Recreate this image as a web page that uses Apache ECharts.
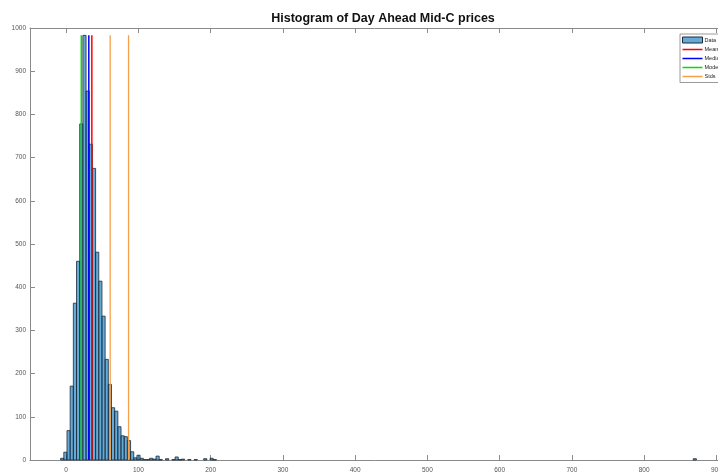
<!DOCTYPE html>
<html>
<head>
<meta charset="utf-8">
<script src="https://cdn.jsdelivr.net/npm/echarts@6/dist/echarts.min.js"></script>
<style>
  html, body { margin: 0; padding: 0; background: #fff; }
  #chart { width: 718px; height: 473px; }
</style>
</head>
<body>
<div id="chart"></div>
<script>
// Histogram bins: equal-width bins starting at binStart
const binStart = -7.6;
const binWidth = 4.4;
const binCounts = [
  4, 18, 68, 171, 363, 460, 778, 983, 854, 731,
  675, 481, 414, 333, 233, 175, 121, 113, 77, 56,
  54, 45, 19, 5, 11, 4, 1, 1, 4, 2,
  9, 1, 0, 3, 0, 1, 7, 1, 2, 0,
  1, 0, 1, 0, 0, 3, 0, 4, 1
];
// Isolated high-price bins (bin index, count)
const outlierBins = [199];
const outlierCounts = [3];

// Summary statistics of the prices
const meanPrice = 35.6;
const medianPrice = 31.4;
const modePrice = 21.0;
const stdLines = [61.0, 86.4];

const xTicks = [0, 100, 200, 300, 400, 500, 600, 700, 800, 900];

// Build [left, right, count] rows for the bars
const barRows = [];
binCounts.forEach((c, k) => {
  if (c > 0) barRows.push([binStart + k * binWidth, binStart + (k + 1) * binWidth, c]);
});
outlierBins.forEach((k, i) => {
  barRows.push([binStart + k * binWidth, binStart + (k + 1) * binWidth, outlierCounts[i]]);
});
const lineTop = Math.max(...binCounts, ...outlierCounts);

const barFill = 'rgba(0,114,189,0.6)';
const barEdge = '#1c2a38';
const axisGray = '#8a8a8a';
const labelGray = '#555';

// Thin horizontal stroke icon; corner specks keep the icon box 20x6
const lineIcon = 'path://M0,0L0.01,0L0,0.01Z M0,2.3L20,2.3L20,3.7L0,3.7Z M20,6L19.99,6L20,5.99Z';

function vline(x) { return [[x, 0], [x, lineTop]]; }

const chart = echarts.init(document.getElementById('chart'), null, { renderer: 'canvas' });
chart.setOption({
  animation: false,
  backgroundColor: '#fff',
  title: {
    text: 'Histogram of Day Ahead Mid-C prices',
    left: 378,
    textAlign: 'center',
    top: 7.5,
    textStyle: { fontFamily: 'Liberation Sans, Arial', fontWeight: 'bold', fontSize: 12.5, color: '#111' }
  },
  grid: { left: 30, top: 28, width: 708, bottom: 13, containLabel: false, outerBoundsMode: 'none' },
  legend: {
    orient: 'vertical',
    left: 680,
    top: 34,
    itemWidth: 20,
    itemHeight: 6,
    itemGap: 3,
    padding: [2.5, 3, 3, 2],
    backgroundColor: '#fff',
    borderColor: '#9a9a9a',
    borderWidth: 1,
    textStyle: { fontFamily: 'Liberation Sans', fontSize: 5.5, lineHeight: 6, color: '#222', padding: [0, 0, 0, -3] },
    data: [
      { name: 'Data', icon: 'rect', itemStyle: { color: barFill, borderColor: '#1c2a38', borderWidth: 1 } },
      { name: 'Mean', icon: lineIcon },
      { name: 'Median', icon: lineIcon },
      { name: 'Mode', icon: lineIcon },
      { name: 'Stds', icon: lineIcon }
    ]
  },
  xAxis: [{
    type: 'value', min: -50, max: 930, position: 'bottom',
    splitLine: { show: false },
    axisLine: { onZero: false, lineStyle: { color: axisGray, width: 1 } },
    axisTick: { inside: true, length: 5, customValues: xTicks, lineStyle: { color: axisGray } },
    axisLabel: { customValues: xTicks, margin: 7, fontSize: 6.5, color: labelGray, fontFamily: 'Liberation Sans' }
  }, {
    type: 'value', min: -50, max: 930, position: 'top',
    splitLine: { show: false },
    axisLine: { show: true, onZero: false, lineStyle: { color: axisGray, width: 1 } },
    axisTick: { inside: true, length: 5, customValues: xTicks, lineStyle: { color: axisGray } },
    axisLabel: { show: false }
  }],
  yAxis: {
    type: 'value', min: 0, max: 1000, interval: 100,
    splitLine: { show: false },
    axisLine: { show: true, onZero: false, lineStyle: { color: axisGray, width: 1 } },
    axisTick: { show: true, inside: true, length: 5, lineStyle: { color: axisGray } },
    axisLabel: { margin: 4, fontSize: 6.5, color: labelGray, fontFamily: 'Liberation Sans', formatter: v => String(v) }
  },
  series: [
    {
      name: 'Data',
      type: 'custom',
      z: 2,
      itemStyle: { color: barFill, borderColor: barEdge },
      encode: { x: [0, 1], y: 2 },
      data: barRows,
      renderItem: function (params, api) {
        const top = api.coord([api.value(0), api.value(2)]);
        const base = api.coord([api.value(1), 0]);
        return {
          type: 'rect',
          shape: { x: top[0], y: top[1], width: base[0] - top[0], height: base[1] - top[1] },
          style: { fill: barFill, stroke: barEdge, lineWidth: 0.8 }
        };
      }
    },
    { name: 'Mean', type: 'line', z: 3, symbol: 'none', color: '#ff0000', lineStyle: { color: '#ff0000', width: 1.5 }, data: vline(meanPrice) },
    { name: 'Median', type: 'line', z: 3, symbol: 'none', color: '#0000ff', lineStyle: { color: '#0000ff', width: 1.5 }, data: vline(medianPrice) },
    { name: 'Mode', type: 'line', z: 3, symbol: 'none', color: '#00e000', lineStyle: { color: '#00e000', width: 1.5 }, data: vline(modePrice) },
    { name: 'Stds', type: 'line', z: 3, symbol: 'none', color: '#f7a04a', lineStyle: { color: '#f7a04a', width: 1.3 }, data: vline(stdLines[0]) },
    { name: 'Stds', type: 'line', z: 3, symbol: 'none', color: '#f7a04a', lineStyle: { color: '#f7a04a', width: 1.3 }, data: vline(stdLines[1]) }
  ]
});
</script>
</body>
</html>
